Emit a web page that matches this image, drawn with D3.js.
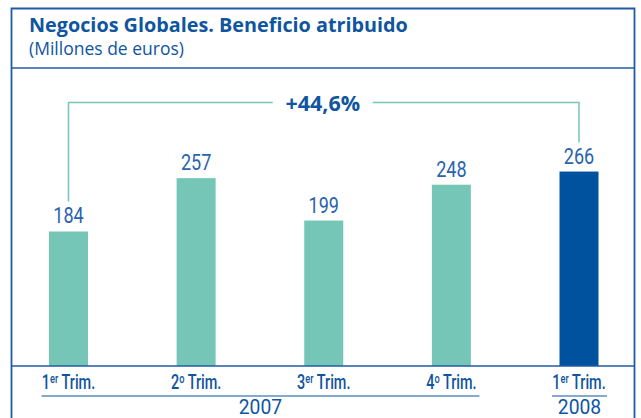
<!DOCTYPE html>
<html>
<head>
<meta charset="utf-8">
<script src="https://cdn.jsdelivr.net/npm/d3@7"></script>
<style>
  body { margin: 0; background: #fff; }
  svg { display: block; }
</style>
</head>
<body>
<div id="chart"></div>
<script>
// chart data
var periods = ["1T07", "2T07", "3T07", "4T07", "1T08"];
var values = [184, 257, 199, 248, 266];
var quarterNum = ["1", "2", "3", "4", "1"];
var quarterSup = ["er", "o", "er", "o", "er"];
var years = ["2007", "2008"];
var yearSpans = [["1T07", "4T07"], ["1T08", "1T08"]];
var growthLabel = "+44,6%";

var svgWidth = 641;
var svgHeight = 418;

var blue = "#0f55a0";
var teal = "#76c6b7";
var darkBar = "#00529f";
var cond = "Roboto, sans-serif";

var svg = d3.select("#chart")
  .append("svg")
  .attr("width", svgWidth)
  .attr("height", svgHeight);

var baseY = 366;
var barWidth = 39;

var x = d3.scalePoint()
  .domain(periods)
  .range([68.5, 579]);

var y = d3.scaleLinear()
  .domain([0, 300])
  .range([baseY, baseY - 300 * 0.731]);

// squeezed text helper (the original uses a condensed face)
function narrowText(sel, px, py, sx) {
  return sel.append("g")
    .attr("transform", "translate(" + px + "," + py + ") scale(" + sx + ",1)")
    .append("text")
    .attr("text-anchor", "middle");
}

// frame
svg.append("path")
  .attr("d", "M11.5,418 V8.5 H634.5 V418")
  .attr("fill", "none")
  .attr("stroke", "#1f5ba6")
  .attr("stroke-width", 1.8);

svg.append("line")
  .attr("x1", 11.5).attr("x2", 634.5)
  .attr("y1", 68).attr("y2", 68)
  .attr("stroke", "#1f5ba6")
  .attr("stroke-width", 1.5);

// title
svg.append("text")
  .attr("x", 29).attr("y", 32)
  .attr("font-family", "'Open Sans', sans-serif")
  .attr("font-weight", "bold")
  .attr("font-size", 19.8)
  .attr("fill", blue)
  .text("Negocios Globales. Beneficio atribuido");

svg.append("text")
  .attr("x", 29).attr("y", 55)
  .attr("font-family", "'Open Sans', sans-serif")
  .attr("font-size", 17.5)
  .attr("fill", blue)
  .text("(Millones de euros)");

// bars
svg.selectAll("rect.bar")
  .data(values)
  .enter()
  .append("rect")
  .attr("class", "bar")
  .attr("x", (d, i) => x(periods[i]) - barWidth / 2)
  .attr("y", d => y(d))
  .attr("width", barWidth)
  .attr("height", d => baseY - y(d))
  .attr("fill", (d, i) => i === values.length - 1 ? darkBar : teal);

// value labels
values.forEach(function(v, i) {
  narrowText(svg, x(periods[i]), y(v) - 8, 0.82)
    .attr("font-family", cond)
    .attr("font-weight", 400)
    .attr("font-size", 22)
    .attr("fill", "#2a63ad")
    .text(v);
});

// growth bracket
var first = periods[0], last = periods[periods.length - 1];
var bracketY = 102.5;
var midX = (x(first) + x(last)) / 2 - 1;
var gap = 50;
svg.append("path")
  .attr("d", "M" + x(first) + "," + (y(values[0]) - 30) + " V" + bracketY + " H" + (midX - gap))
  .attr("fill", "none")
  .attr("stroke", teal)
  .attr("stroke-width", 1.5);
svg.append("path")
  .attr("d", "M" + (midX + gap) + "," + bracketY + " H" + x(last) + " V" + (y(values[values.length - 1]) - 29))
  .attr("fill", "none")
  .attr("stroke", teal)
  .attr("stroke-width", 1.5);
svg.append("text")
  .attr("x", midX).attr("y", 110.5)
  .attr("text-anchor", "middle")
  .attr("font-family", "'Open Sans', sans-serif")
  .attr("font-weight", "bold")
  .attr("font-size", 21.5)
  .attr("fill", blue)
  .text(growthLabel);

// baseline
svg.append("line")
  .attr("x1", 11.5).attr("x2", 634.5)
  .attr("y1", baseY).attr("y2", baseY)
  .attr("stroke", "#1f5ba6")
  .attr("stroke-width", 1.5);

// quarter labels
periods.forEach(function(p, i) {
  var t = narrowText(svg, x(p), 389, 0.74)
    .attr("font-family", cond)
    .attr("font-size", 19.5)
    .attr("font-weight", 500)
    .attr("fill", blue);
  t.append("tspan").text(quarterNum[i]);
  t.append("tspan")
    .attr("font-size", 12.5)
    .attr("dy", -6)
    .text(quarterSup[i]);
  t.append("tspan")
    .attr("dy", 6)
    .text(" Trim.");
});

// year groups
years.forEach(function(yr, i) {
  var x0 = x(yearSpans[i][0]) - 27;
  var x1 = x(yearSpans[i][1]) + 28;
  svg.append("line")
    .attr("x1", x0).attr("x2", x1)
    .attr("y1", 396).attr("y2", 396)
    .attr("stroke", blue)
    .attr("stroke-width", 1.2);
  narrowText(svg, (x0 + x1) / 2, 413.5, 0.92)
    .attr("font-family", cond)
    .attr("font-size", 21)
    .attr("fill", blue)
    .text(yr);
});
</script>
</body>
</html>
